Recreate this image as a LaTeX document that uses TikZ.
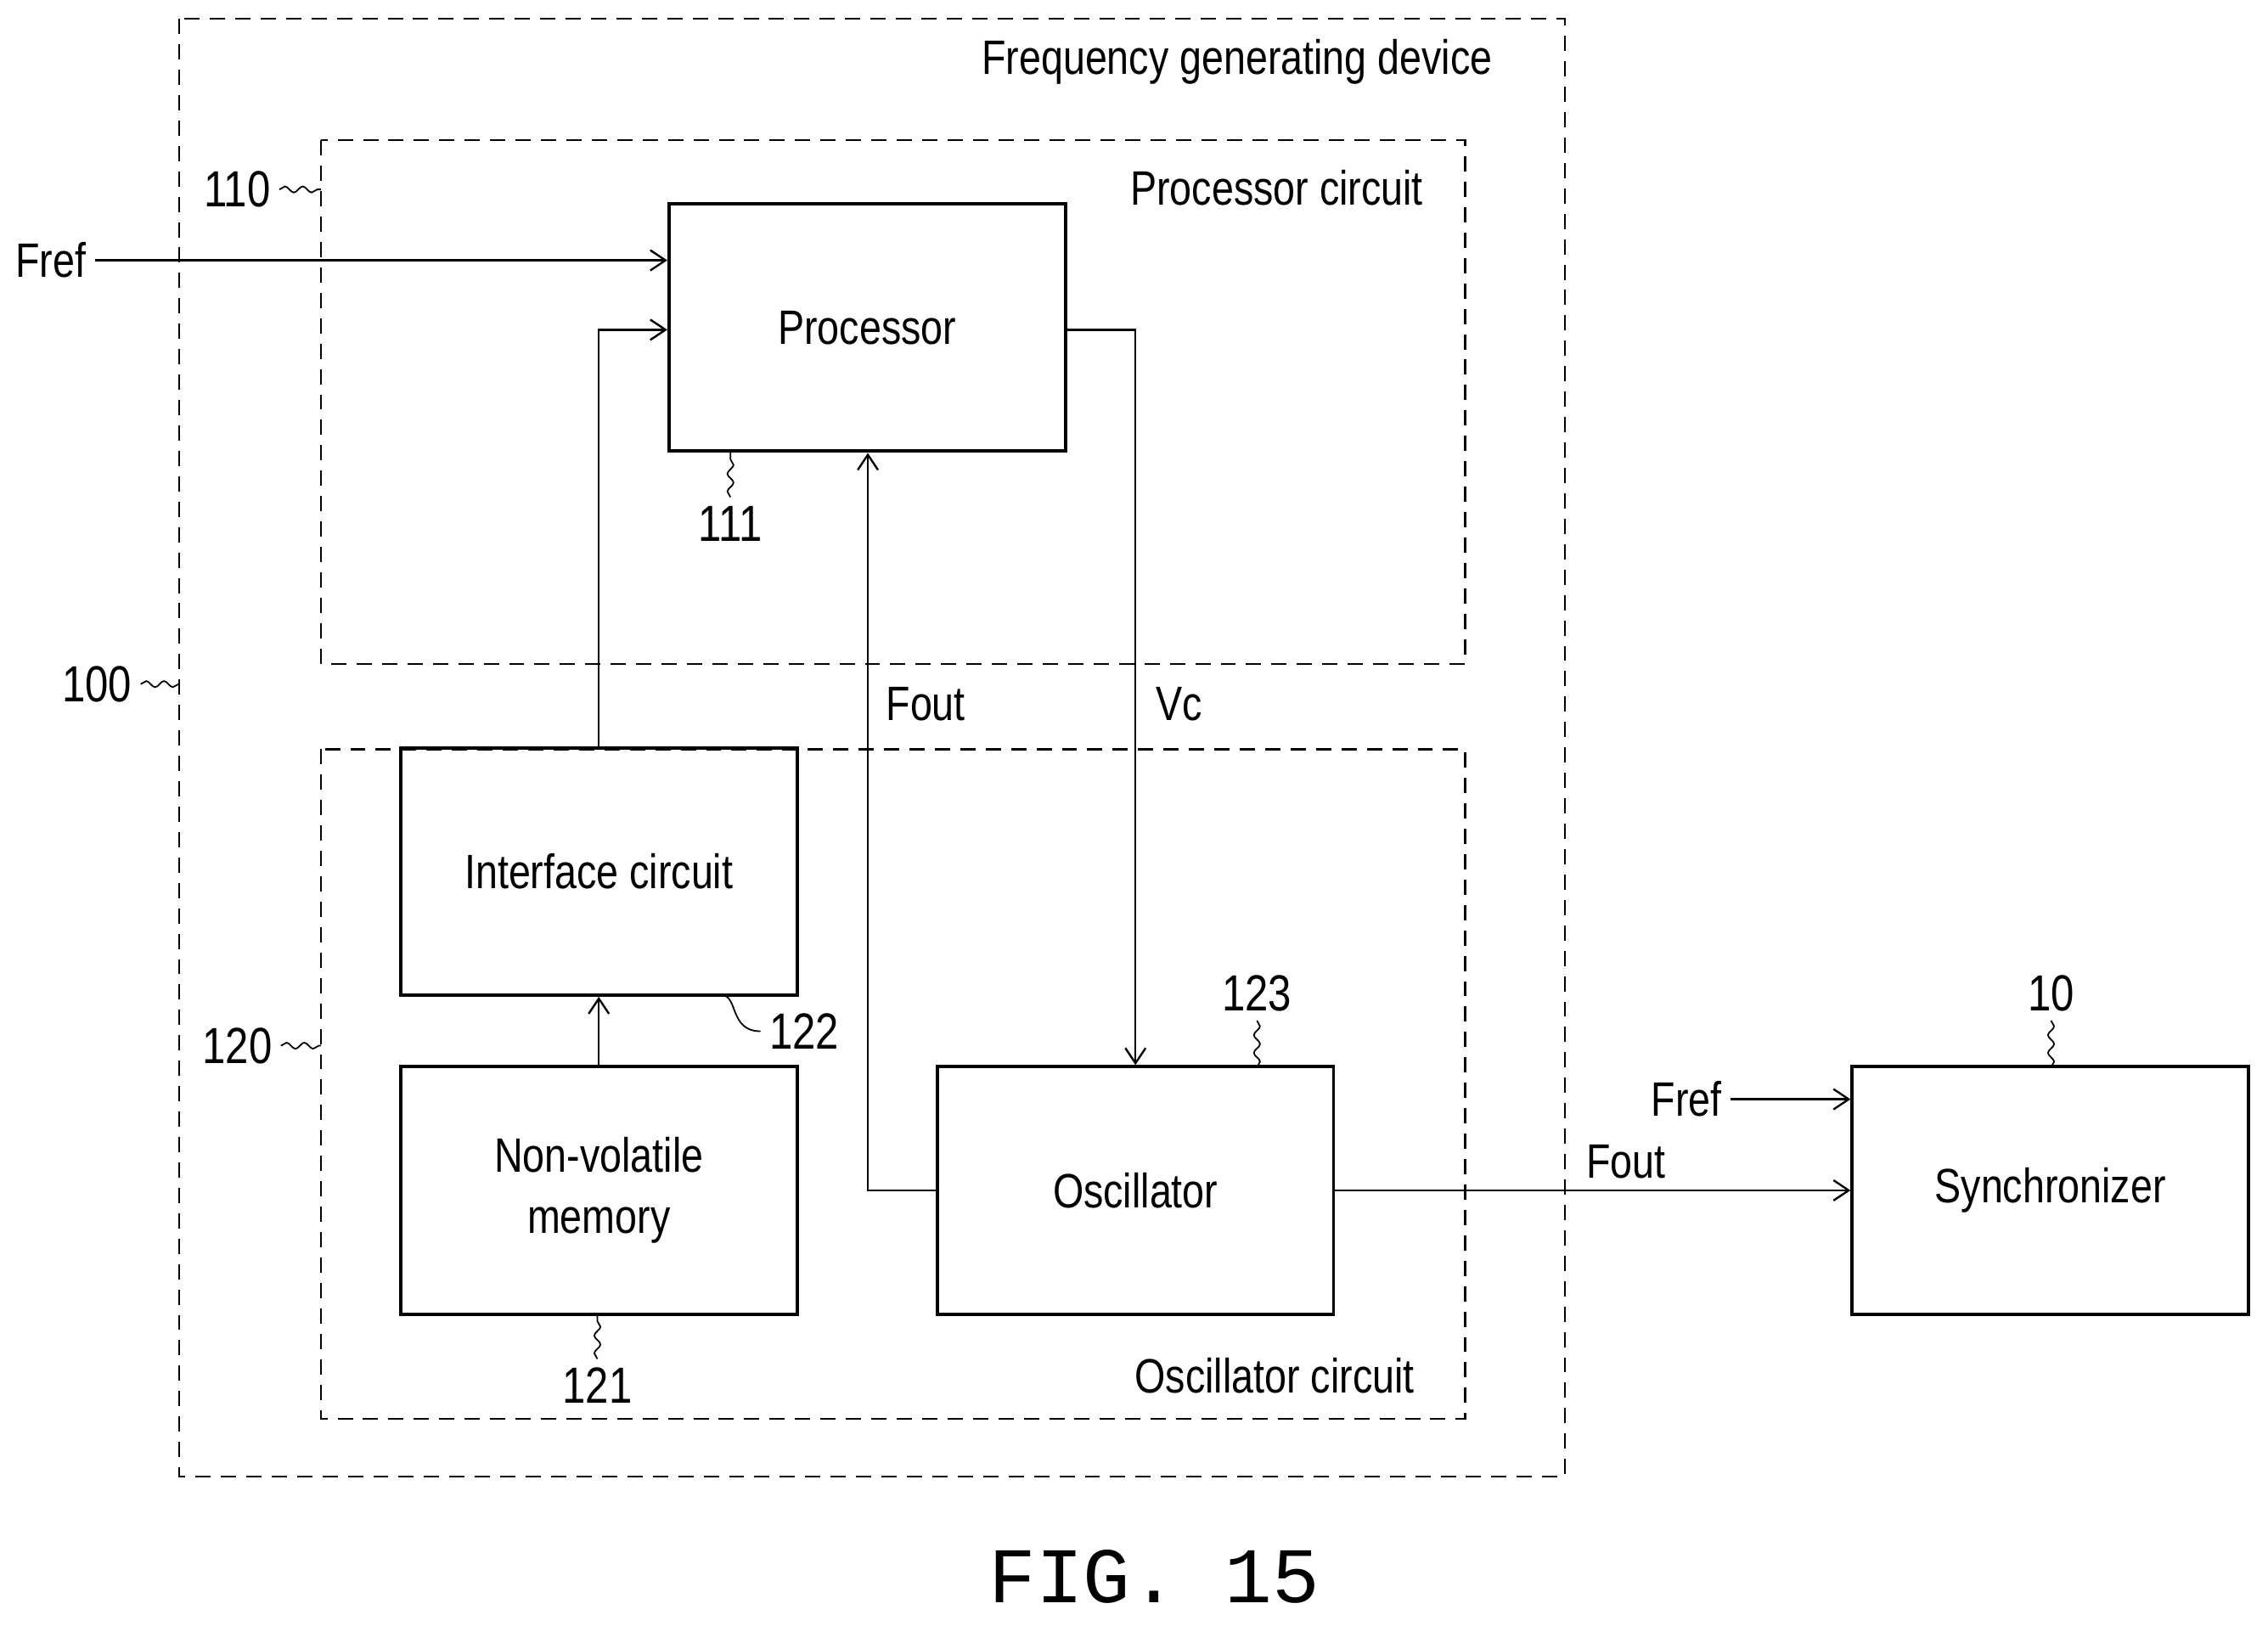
\documentclass[tikz,border=0pt]{standalone}
\usepackage{fontspec}
\setmainfont[FakeStretch=0.82]{Liberation Sans}
\newfontfamily\figfont{Liberation Mono}
\usetikzlibrary{positioning,arrows.meta,decorations.pathmorphing}
\tikzset{
	block/.style={draw,line width=1.3pt,minimum width=5.48cm,minimum height=3.42cm,align=center,font=\fontsize{19}{24}\selectfont},
	frame/.style={draw,line width=0.8pt,dash pattern=on 6pt off 4pt},
	lbl/.style={font=\fontsize{19}{23}\selectfont},
	ref/.style={font=\fontsize{20}{24}\selectfont},
	wig/.style={line width=0.6pt,decorate,decoration={snake,amplitude=1.2pt,segment length=7pt}},
	sig/.style={line width=0.8pt,-{Straight Barb[length=6pt,width=8pt]}}
}
\begin{document}
\begin{tikzpicture}[x=0.02cm,y=-0.02cm]
	\useasboundingbox (0,0) rectangle (1568,1124);
	% dashed frames
	\draw[frame] (124,13) rectangle (1082,1021);
	\draw[frame] (222,97) rectangle (1013,459);
	\draw[frame] (222,518) rectangle (1013,981);
	\node[lbl,anchor=east] (fgd) at (1038,43) {Frequency generating device};
	\node[lbl,anchor=east] (pcl) at (990,130) {Processor circuit};
	\node[lbl,anchor=east] (ocl) at (984,951) {Oscillator circuit};
	% blocks
	\node[block] (proc) at (599.5,226.5) {Processor};
	\node[block] (intf) at (414,602.5) {Interface circuit};
	\node[block] (nvm) at (414,823) {Non-volatile\\memory};
	\node[block] (osc) at (785,823) {Oscillator};
	\node[block] (sync) at (1417.5,823) {Synchronizer};
	% signals
	\node[lbl] (fref) at (35,180) {Fref};
	\draw[sig] (fref.east) -- (fref.east -| proc.west);
	\draw[sig] (intf.north) |- (proc.west |- 0,228);
	\draw[sig] (nvm.north) -- (intf.south);
	\draw[sig] (proc.east |- 0,228) -| (osc.north);
	\draw[sig] (osc.west) -| (proc.south -| 600,0);
	\draw[sig] (osc.east) -- (sync.west |- osc.east);
	\node[lbl] (vc) at (815,487) {Vc};
	\node[lbl] (fout) at (640,487) {Fout};
	\node[lbl] (fout2) at (1124,803) {Fout};
	\node[lbl] (fref2) at (1166,760) {Fref};
	\draw[sig] (fref2.east) -- (sync.west |- fref2.east);
	% reference numerals
	\node[ref] (r100) at (67,473) {100};
	\node[ref] (r110) at (164,131) {110};
	\node[ref] (r120) at (164,723) {120};
	\node[ref] (r111) at (505,362) {111};
	\node[ref] (r122) at (556,713) {122};
	\node[ref] (r121) at (413,958) {121};
	\node[ref] (r123) at (869,687) {123};
	\node[ref] (r10) at (1418,687) {10};
	\draw[wig] (r100.east) -- (124,473);
	\draw[wig] (r110.east) -- (222,131);
	\draw[wig] (r120.east) -- (222,723);
	\draw[wig] (r111.north) -- (505,312);
	\draw[line width=0.6pt] (r122.west) .. controls (505,713) and (510,690) .. (500,688);
	\draw[wig] (r121.north) -- (413,908);
	\draw[wig] (r123.south) -- (869,738);
	\draw[wig] (r10.south) -- (1418,738);
	\node[font=\figfont\fontsize{31}{36}\selectfont] (fig) at (798,1090) {FIG. 15};
\end{tikzpicture}
\end{document}
